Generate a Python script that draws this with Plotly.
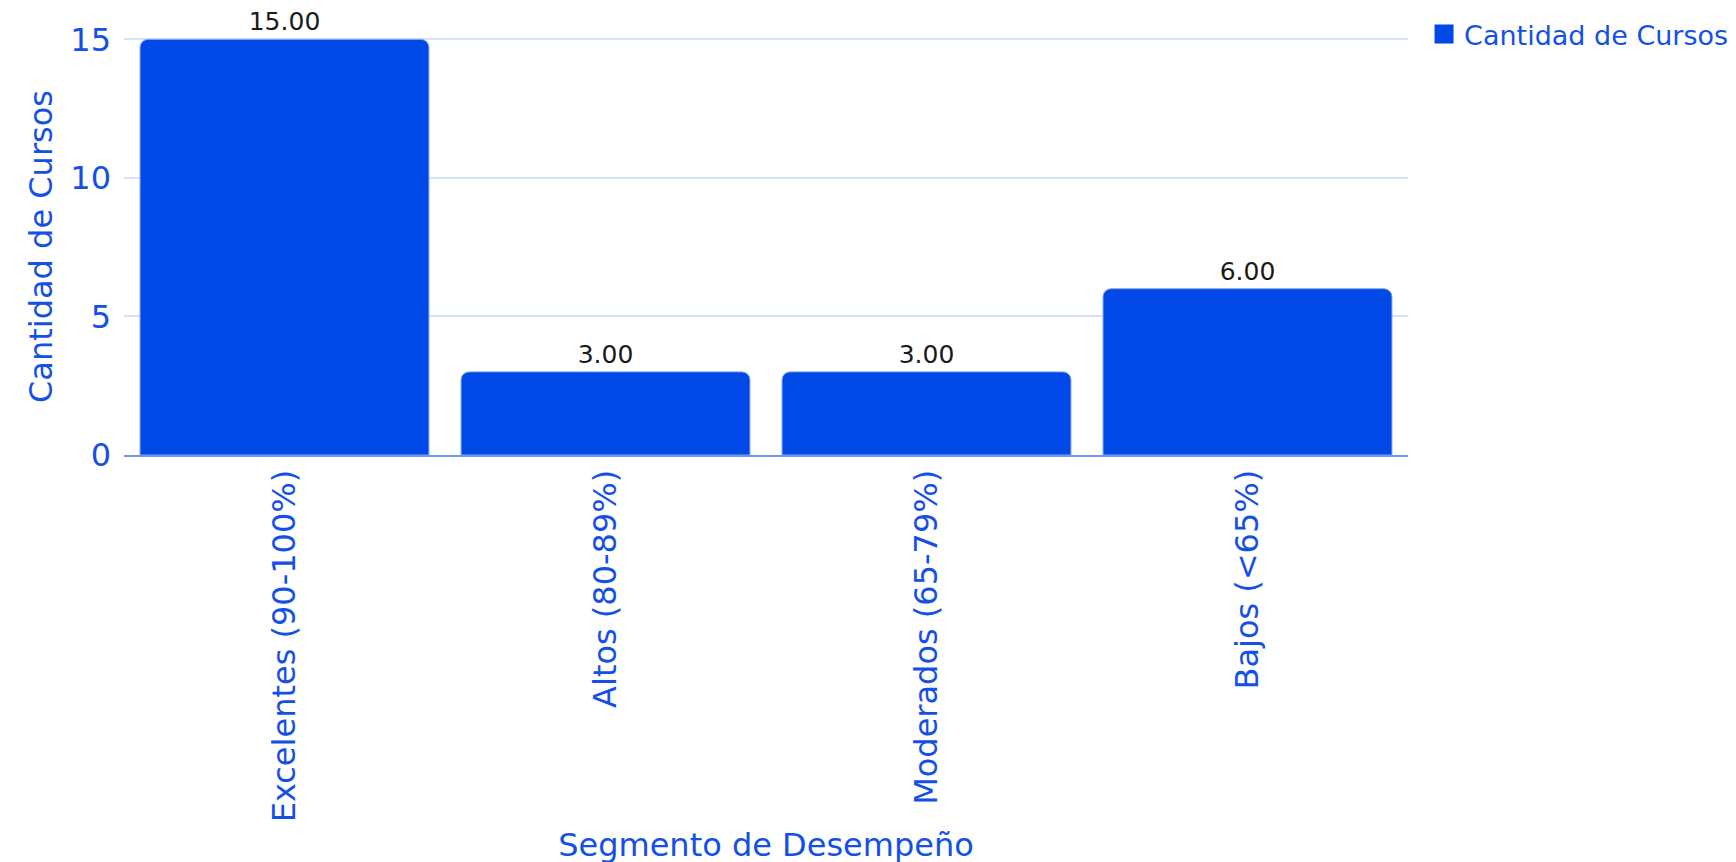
import plotly.graph_objects as go

categories = ["Excelentes (90-100%)", "Altos (80-89%)", "Moderados (65-79%)", "Bajos (<65%)"]
values = [15, 3, 3, 6]
series_name = "Cantidad de Cursos"
x_title = "Segmento de Desempeño"
y_title = "Cantidad de Cursos"
y_ticks = [0, 5, 10, 15]

BLUE = "#0049E6"
TXT = "#1550E6"
FONT = "DejaVu Sans"

fig = go.Figure()
fig.add_trace(go.Bar(
    x=categories, y=values, name=series_name,
    marker=dict(color=BLUE, cornerradius=8, line=dict(color="#7ea0f2", width=1)),
    text=[f"{v:.2f}" for v in values], textposition="outside",
    textfont=dict(family=FONT, size=25, color="#1a1a1a"),
    cliponaxis=False, showlegend=False, legendgroup="g",
))
# legend entry (square symbol)
fig.add_trace(go.Scatter(
    x=[None], y=[None], mode="markers", name=series_name, legendgroup="g",
    marker=dict(symbol="square", size=20, color=BLUE, line=dict(color=BLUE, width=3)),
    showlegend=True,
))

fig.update_layout(
    width=1736, height=862,
    paper_bgcolor="white", plot_bgcolor="white",
    margin=dict(l=116, r=336, t=30, b=415, autoexpand=False),
    bargap=0.1,
    font=dict(family=FONT, color=TXT),
    legend=dict(x=1.0125, y=1.067, xanchor="left", yanchor="top",
                font=dict(family=FONT, size=27, color=TXT)),
    xaxis=dict(title=dict(text=x_title, font=dict(size=32, color=TXT), standoff=12),
               tickfont=dict(size=32, color=TXT), tickangle=-90,
               showline=True, linecolor="#6f95ee", linewidth=2, ticks=""),
    yaxis=dict(title=dict(text=y_title, font=dict(size=32, color=TXT), standoff=8),
               tickfont=dict(size=32, color=TXT), tickvals=y_ticks,
               range=[0, 15.05], gridcolor="#d6e0ff", gridwidth=2,
               zeroline=False, ticks="", ticklabelstandoff=12),
)

fig.write_html("out.html")
